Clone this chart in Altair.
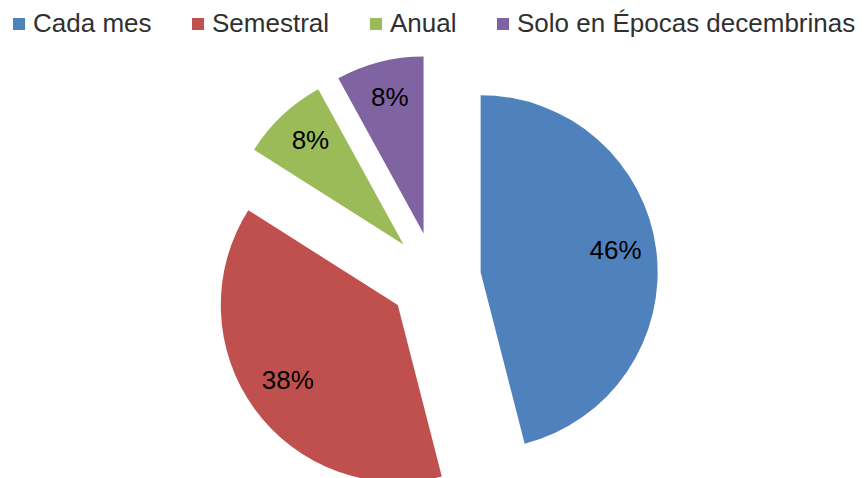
import altair as alt
import pandas as pd

categories = ["Cada mes", "Semestral", "Anual", "Solo en Épocas decembrinas"]
percentages = [46, 38, 8, 8]
colors = ["#4F81BD", "#C0504D", "#9BBB59", "#8064A2"]

W, H = 864, 478
CX, CY = 435, 278
R = 177
EXPLODE = 46
LABEL_R = 136

df = pd.DataFrame({"cat": categories, "pct": percentages, "order": list(range(len(categories)))})

base = (
    alt.Chart(df)
    .transform_window(cum="sum(pct)", sort=[alt.SortField("order")], frame=[None, 0])
    .transform_calculate(t1="2*PI*datum.cum/100", t0="2*PI*(datum.cum-datum.pct)/100")
    .transform_calculate(mid="(datum.t0+datum.t1)/2")
    .transform_calculate(
        cx=f"{CX}+{EXPLODE}*sin(datum.mid)",
        cy=f"{CY}-{EXPLODE}*cos(datum.mid)",
    )
    .transform_calculate(
        lx=f"datum.cx+{LABEL_R}*sin(datum.mid)",
        ly=f"datum.cy-{LABEL_R}*cos(datum.mid)",
        lbl="datum.pct+'%'",
    )
)

arcs = base.mark_arc(outerRadius=R).encode(
    theta=alt.Theta("t0:Q", scale=None),
    theta2="t1:Q",
    x=alt.X("cx:Q", scale=None, axis=None),
    y=alt.Y("cy:Q", scale=None, axis=None),
    color=alt.Color(
        "cat:N",
        scale=alt.Scale(domain=categories, range=colors),
        sort=categories,
        legend=alt.Legend(
            orient="none",
            legendX=6,
            legendY=11,
            direction="horizontal",
            columns=4,
            title=None,
            symbolType="square",
            symbolSize=144,
            symbolStrokeWidth=0,
            symbolOpacity=1,
            labelFontSize=26,
            labelFont="Liberation Sans",
            labelColor="#303030",
            labelOffset=1,
            labelLimit=0,
            columnPadding=33,
            padding=0,
        ),
    ),
)

labels = base.mark_text(fontSize=26, font="Liberation Sans", color="black", baseline="middle", align="center", dy=-4).encode(
    x=alt.X("lx:Q", scale=None, axis=None),
    y=alt.Y("ly:Q", scale=None, axis=None),
    text="lbl:N",
)

chart = (
    alt.layer(arcs, labels)
    .properties(width=W, height=H, padding=0, autosize="none")
    .configure_view(stroke=None)
)

chart.save("out.html", embed_options={"renderer": "svg", "actions": False})
